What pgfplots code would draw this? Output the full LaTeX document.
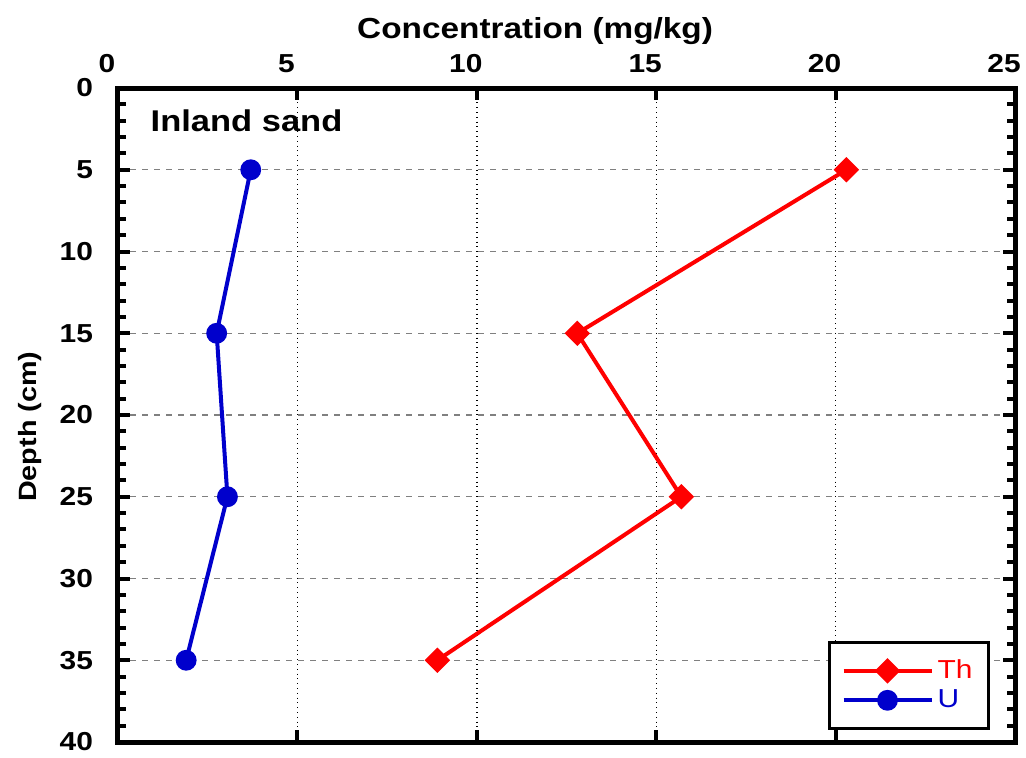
\documentclass[border=0pt]{standalone}
\usepackage{fontspec}
\setmainfont{Liberation Sans}[FakeStretch=1.15]
\usepackage{pgfplots}
\pgfplotsset{compat=1.18}
\definecolor{ublue}{RGB}{0,0,204}
\begin{document}
\begin{tikzpicture}
\useasboundingbox (-59pt,-7.5pt) rectangle (454pt,371pt);
\begin{axis}[
  at={(0,0)}, anchor=south west,
  scale only axis, width=448.5pt, height=327pt,
  xmin=0, xmax=25, ymin=0, ymax=40,
  y dir=reverse,
  xtick={0,5,...,25}, ytick={0,5,...,40},
  minor y tick num=4,
  xticklabel pos=upper,
  tick align=inside,
  major tick length=6pt, minor tick length=4pt,
  every tick/.style={black, line width=2pt},
  axis line style={line width=2.5pt},
  grid=major,
  x grid style={black, dotted, line width=0.7pt},
  y grid style={gray, dashed, line width=0.7pt},
  /pgf/number format/assume math mode=true,
  ticklabel style={font=\fontsize{13}{15}\selectfont\bfseries},
  xticklabel style={yshift=4pt, xshift=-5.5pt},
  yticklabel style={xshift=-9pt},
  xlabel={Concentration (mg/kg)},
  xlabel style={font=\fontsize{14.5}{17}\selectfont\bfseries,
    at={(axis description cs:0.465,1)}, anchor=south, yshift=18pt},
  ylabel={Depth (cm)},
  ylabel style={font=\fontsize{12.5}{15}\selectfont\bfseries,
    at={(axis description cs:-0.098,0.482)}, anchor=center},
  legend style={at={(0.972,0.018)}, anchor=south east, draw=black,
    line width=1.5pt, font=\fontsize{13}{15}\selectfont,
    inner xsep=6pt, inner ysep=7pt, row sep=0pt},
  legend cell align=left,
  legend image code/.code={
    \draw[mark repeat=2, mark phase=2] plot coordinates {(0pt,0pt) (22pt,0pt) (44pt,0pt)};
  },
  clip=false,
]
\addplot[red, line width=2pt, mark=square*, mark size=3.5pt, mark options={rotate=45}]
  coordinates {(20.3,5) (12.8,15) (15.7,25) (8.9,35)};
\addlegendentry{\textcolor{red}{Th}}
\addplot[ublue, line width=2pt, mark=*, mark size=4.2pt]
  coordinates {(3.7,5) (2.75,15) (3.05,25) (1.9,35)};
\addlegendentry{\textcolor{ublue}{U}}
\node[anchor=west, inner sep=0pt, font=\fontsize{15}{18}\selectfont\bfseries]
  at (axis cs:0.9,2) {Inland sand};
\end{axis}
\end{tikzpicture}
\end{document}
